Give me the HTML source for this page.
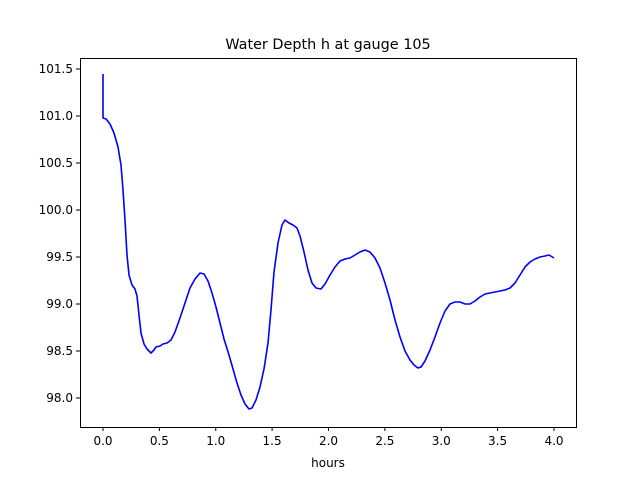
<!DOCTYPE html>
<html><head><meta charset="utf-8"><style>body{margin:0;background:#fff}svg{display:block}text{font-family:"DejaVu Sans","Liberation Sans",sans-serif;font-size:12px;fill:#000}</style></head><body>
<svg width="640" height="480" viewBox="0 0 640 480" xmlns="http://www.w3.org/2000/svg">
<rect width="640" height="480" fill="#fff"/>
<polyline fill="none" stroke="#0000ff" stroke-width="1.6" stroke-linejoin="round" points="103,74 103,118 106,119 110,124 114,133 118,147 121,165 123,190 125,220 127,255 129,275 132,285 135,289 137,296 139,315 141,333 144,344 147,349 151,353 154,350 156,347 160,346 163,344 167,343 171,340 175,332 180,318 185,303 190,288 195,279 200,273 204,274 208,281 212,293 216,307 220,323 224,339 229,355 233,369 237,383 241,395 245,404 249,409 252,408 256,400 260,387 264,369 268,343 271,310 274,272 278,243 282,225 285,220 289,223 293,225 297,228 300,236 304,252 308,270 312,283 316,288 321,289 325,284 330,275 335,267 340,261 345,259 350,258 355,255 360,252 365,250 370,252 375,258 380,268 385,283 390,300 395,320 400,337 405,351 410,360 414,365 418,368 421,367 425,361 430,350 435,337 440,323 445,311 450,304 455,302 460,302 465,304 470,304 475,301 480,297 485,294 490,293 495,292 500,291 505,290 510,288 515,283 520,275 525,267 530,262 535,259 540,257 545,256 549,255 554,258"/>
<rect x="80.5" y="58.5" width="496" height="369" fill="none" stroke="#000" stroke-width="1"/>
<g stroke="#000" stroke-width="1">
<line x1="103" y1="427" x2="103" y2="431"/><line x1="159.4" y1="427" x2="159.4" y2="431"/><line x1="215.75" y1="427" x2="215.75" y2="431"/><line x1="272.1" y1="427" x2="272.1" y2="431"/><line x1="328.5" y1="427" x2="328.5" y2="431"/><line x1="384.9" y1="427" x2="384.9" y2="431"/><line x1="441.25" y1="427" x2="441.25" y2="431"/><line x1="497.6" y1="427" x2="497.6" y2="431"/><line x1="554" y1="427" x2="554" y2="431"/>
<line x1="76" y1="398" x2="80" y2="398"/><line x1="76" y1="351" x2="80" y2="351"/><line x1="76" y1="304" x2="80" y2="304"/><line x1="76" y1="257" x2="80" y2="257"/><line x1="76" y1="210" x2="80" y2="210"/><line x1="76" y1="163" x2="80" y2="163"/><line x1="76" y1="116" x2="80" y2="116"/><line x1="76" y1="69" x2="80" y2="69"/>
</g>
<g text-anchor="middle">
<text x="103" y="445">0.0</text><text x="159.4" y="445">0.5</text><text x="215.75" y="445">1.0</text><text x="272.1" y="445">1.5</text><text x="328.5" y="445">2.0</text><text x="384.9" y="445">2.5</text><text x="441.25" y="445">3.0</text><text x="497.6" y="445">3.5</text><text x="554" y="445">4.0</text>
<text x="328" y="467">hours</text>
<text x="328" y="49" style="font-size:14.4px">Water Depth h at gauge 105</text>
</g>
<g text-anchor="end">
<text x="73" y="402">98.0</text><text x="73" y="355">98.5</text><text x="73" y="308">99.0</text><text x="73" y="261">99.5</text><text x="73" y="214">100.0</text><text x="73" y="167">100.5</text><text x="73" y="120">101.0</text><text x="73" y="73">101.5</text>
</g>
</svg>
</body></html>
